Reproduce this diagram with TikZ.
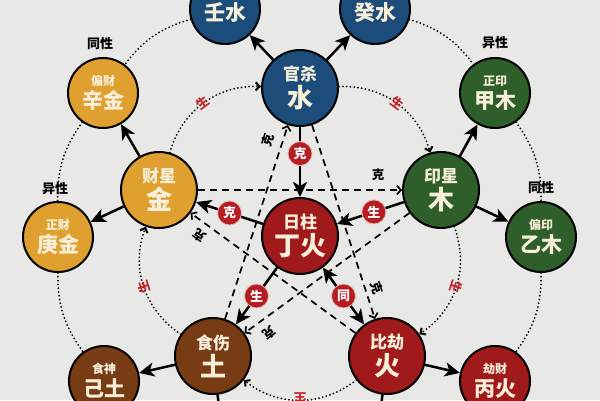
\documentclass[tikz,border=0pt]{standalone}
\usepackage{fontspec}
\newfontfamily\cjk{Noto Sans CJK SC}
\usetikzlibrary{arrows.meta}
\definecolor{bgc}{HTML}{E8E8E6}
\definecolor{cblue}{HTML}{1B4C7A}
\definecolor{cgreen}{HTML}{2E5E2A}
\definecolor{cred}{HTML}{A01A1C}
\definecolor{cgold}{HTML}{E0A030}
\definecolor{cbrown}{HTML}{783C14}
\definecolor{ctxt}{HTML}{F6EED8}
\definecolor{labred}{HTML}{B51D22}
\definecolor{labedge}{HTML}{E6B8B8}
\definecolor{shred}{HTML}{C0282C}
\newcommand{\mybigtxt}[2]{\fontsize{17}{19}\selectfont #1\\[2pt]\fontsize{26}{28}\selectfont #2}
\newcommand{\mysmtxt}[2]{\fontsize{12}{14}\selectfont #1\\[3pt]\fontsize{21}{23}\selectfont #2}
\begin{document}
\begin{tikzpicture}[x=1pt,y=-1pt,
  bignode/.style={circle, draw=black, line width=2pt, minimum size=76pt, inner sep=0pt, text=ctxt, align=center, font=\cjk\bfseries},
  smnode/.style={circle, draw=black, line width=2pt, minimum size=70pt, inner sep=0pt, text=ctxt, align=center, font=\cjk\bfseries},
  lab/.style={circle, fill=labred, draw=labedge, line width=0.8pt, minimum size=24pt, inner sep=0pt, text=white, font=\cjk\bfseries\fontsize{13}{13}\selectfont},
  bigarr/.style={line width=2.5pt, -{Stealth[length=15pt,width=14pt,inset=4pt]}},
  dblarr/.style={line width=2.5pt, {Stealth[length=15pt,width=14pt,inset=4pt]}-{Stealth[length=15pt,width=14pt,inset=4pt]}},
  dasharr/.style={line width=1.7pt, dash pattern=on 7pt off 5pt, -{Straight Barb[length=4pt,width=9pt]}},
  dotarr/.style={line width=2pt, line cap=round, dash pattern=on 0pt off 3.8pt, -{Straight Barb[length=4pt,width=8pt]}},
  dotline/.style={line width=2pt, line cap=round, dash pattern=on 0pt off 3.8pt},
  klab/.style={font=\cjk\bfseries\fontsize{12.5}{12.5}\selectfont, text=black, inner sep=0pt},
  slab/.style={font=\cjk\bfseries\fontsize{12.5}{12.5}\selectfont, text=shred, inner sep=0pt},
  xing/.style={font=\cjk\bfseries\fontsize{13}{13}\selectfont, text=black, inner sep=0pt}]
\clip (0,0) rectangle (600,400);
\useasboundingbox (0,0) rectangle (600,400);
\fill[bgc] (0,0) rectangle (600,400);

% main five + centre
\node[bignode, fill=cblue]  (guan) at (300,88)  {\mybigtxt{官杀}{水}};
\node[bignode, fill=cgreen] (yin)  at (441,190) {\mybigtxt{印星}{木}};
\node[bignode, fill=cred]   (bi)   at (387,356) {\mybigtxt{比劫}{火}};
\node[bignode, fill=cbrown] (shi)  at (213,356) {\mybigtxt{食伤}{土}};
\node[bignode, fill=cgold]  (cai)  at (159,190) {\mybigtxt{财星}{金}};
\node[bignode, fill=cred]   (ri)   at (300,236) {\mybigtxt{日柱}{丁火}};

% outer ring
\node[smnode, fill=cblue]  (ren)  at (225,9)   {\vphantom{壬水}\smash{\raisebox{-8pt}{\fontsize{21}{23}\selectfont 壬水}}};
\node[smnode, fill=cblue]  (gui)  at (375,9)   {\vphantom{癸水}\smash{\raisebox{-8pt}{\fontsize{21}{23}\selectfont 癸水}}};
\node[smnode, fill=cgreen] (jia)  at (495,93)  {\mysmtxt{正印}{甲木}};
\node[smnode, fill=cgreen] (yi)   at (541,237) {\mysmtxt{偏印}{乙木}};
\node[smnode, fill=cred]   (bing) at (495,381) {\mysmtxt{劫财}{丙火}};
\node[smnode, fill=cbrown] (ji)   at (104,381) {\mysmtxt{食神}{己土}};
\node[smnode, fill=cgold]  (geng) at (58,237)  {\mysmtxt{正财}{庚金}};
\node[smnode, fill=cgold]  (xin)  at (103,93)  {\mysmtxt{偏财}{辛金}};
\coordinate (cshi) at (226,466);
\coordinate (cbi)  at (374,466);

% same/different sex labels
\node[xing] (t1) at ([xshift=-3pt,yshift=13pt]xin.north)  {同性};
\node[xing] (t2) at ([xshift=-3pt,yshift=12pt]geng.north) {异性};
\node[xing] (t3) at ([yshift=14pt]jia.north)  {异性};
\node[xing] (t4) at ([yshift=13pt]yi.north)   {同性};

% outer dotted ring
\draw[dotline] (ren) to[bend right=18] (xin);
\draw[dotline] (xin) to[bend right=18] (geng);
\draw[dotline] (geng) to[bend right=18] (ji);
\draw[dotline] (gui) to[bend left=18] (jia);
\draw[dotline] (jia) to[bend left=18] (yi);
\draw[dotline] (yi) to[bend left=18] (bing);

% generating cycle (dotted arcs)
\draw[dotarr] (cai)  to[bend left=38] (guan);
\draw[dotarr] (guan) to[bend left=38] (yin);
\draw[dotarr] (yin)  to[bend left=38] (bi);
\draw[dotarr] (bi)   to[bend left=38] (shi);
\draw[dotarr] (shi)  to[bend left=38] (cai);
\node[slab, rotate=36]   (s1) at (203,103) {生};
\node[slab, rotate=-36]  (s2) at (397,103) {生};
\node[slab, rotate=-108] (s3) at (456,287) {生};
\node[slab, rotate=180]  (s4) at (300,398) {生};
\node[slab, rotate=108]  (s5) at (144,287) {生};

% controlling cycle (dashed star)
\draw[dasharr] (cai)  -- (yin);
\draw[dasharr] (yin)  -- (shi);
\draw[dasharr] (shi)  -- (guan);
\draw[dasharr] (guan) -- (bi);
\draw[dasharr] (bi)   -- (cai);
\node[klab]              (k1) at (378,175) {克};
\node[klab, rotate=-144] (k2) at (269,333) {克};
\node[klab, rotate=72]   (k3) at (268,140) {克};
\node[klab, rotate=-72]  (k4) at (377,288) {克};
\node[klab, rotate=144]  (k5) at (200,236) {克};

% main to outer arrows
\draw[bigarr] (guan) -- (ren);
\draw[bigarr] (guan) -- (gui);
\draw[bigarr] (yin)  -- (jia);
\draw[bigarr] (yin)  -- (yi);
\draw[bigarr] (bi)   -- (bing);
\draw[bigarr, shorten >=35pt] (bi) -- (cbi);
\draw[bigarr] (shi)  -- (ji);
\draw[bigarr, shorten >=35pt] (shi) -- (cshi);
\draw[bigarr] (cai)  -- (xin);
\draw[bigarr] (cai)  -- (geng);

% centre relations
\draw[bigarr] (guan) -- node[lab, pos=0.38] (l1) {克} (ri);
\draw[bigarr] (yin)  -- node[lab, pos=0.45] (l2) {生} (ri);
\draw[bigarr] (ri)   -- node[lab, pos=0.5]  (l3) {克} (cai);
\draw[bigarr] (ri)   -- node[lab, pos=0.5]  (l4) {生} (shi);
\draw[dblarr] (ri)   -- node[lab, pos=0.5]  (l5) {同} (bi);
\end{tikzpicture}
\end{document}
